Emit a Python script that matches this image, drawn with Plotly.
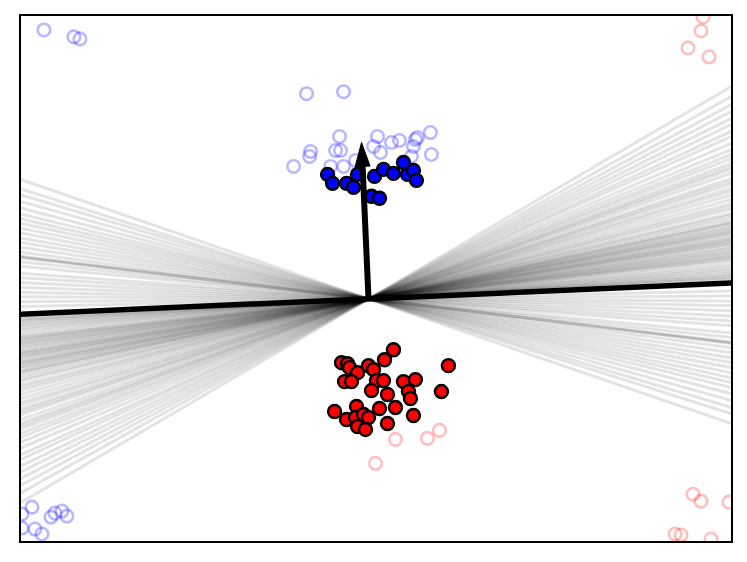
import plotly.graph_objects as go

# ---- data (units: arbitrary 2D feature space, origin at decision centre) ----
blue_x = [-0.41, -0.36, -0.22, -0.15, -0.11, 0.06, 0.15, 0.25, 0.35, 0.39, 0.45, 0.48, 0.03, 0.11]
blue_y = [1.25, 1.16, 1.16, 1.12, 1.25, 1.23, 1.30, 1.26, 1.37, 1.25, 1.29, 1.19, 1.03, 1.01]

red_x = [0.25, 0.16, -0.27, -0.21, -0.19, -0.11, 0.00, 0.05, 0.80, -0.24, -0.17, 0.08, 0.15, 0.35,
         0.47, 0.03, 0.19, 0.40, 0.42, 0.73, -0.34, -0.12, 0.11, 0.27, -0.22, -0.13, -0.05, 0.00,
         -0.11, -0.03, 0.19, 0.45]
red_y = [-0.51, -0.61, -0.64, -0.65, -0.69, -0.74, -0.67, -0.71, -0.67, -0.83, -0.83, -0.82, -0.82,
         -0.83, -0.81, -0.92, -0.96, -0.93, -1.00, -0.93, -1.13, -1.08, -1.10, -1.09, -1.21, -1.19,
         -1.16, -1.19, -1.28, -1.31, -1.25, -1.17]

blue_faint_x = [-0.62, -0.25, -0.29, 0.09, 0.23, 0.31, 0.49, 0.62, -0.58, -0.59, -0.75, -0.33, -0.28,
                0.05, 0.12, 0.45, 0.63, -0.38, -0.25, -0.13, 0.43, 0.47,
                -3.25, -2.95, -2.89,
                -3.47, -3.37, -3.47, -3.34, -3.27, -3.18, -3.14, -3.07, -3.02]
blue_faint_y = [2.06, 2.08, 1.63, 1.63, 1.57, 1.59, 1.62, 1.67, 1.48, 1.43, 1.33, 1.49, 1.49,
                1.53, 1.47, 1.53, 1.45, 1.33, 1.33, 1.39, 1.43, 1.60,
                2.70, 2.63, 2.61,
                -2.16, -2.09, -2.30, -2.31, -2.36, -2.19, -2.15, -2.13, -2.18]

red_faint_x = [3.35, 3.33, 3.20, 3.41, 3.25, 3.33, 3.61, 3.07, 3.13, 3.43, 0.27, 0.59, 0.71, 0.07]
red_faint_y = [2.83, 2.69, 2.52, 2.43, -1.96, -2.03, -2.04, -2.36, -2.37, -2.41, -1.41, -1.40, -1.32, -1.65]

# slopes of sampled decision boundaries (all pass through the origin)
sample_slopes = [0.587, 0.559, 0.537, 0.518, 0.499, 0.482, 0.463, 0.449, 0.430, 0.413, 0.399, 0.388,
                 0.375, 0.366, 0.358, 0.347, 0.333, 0.325, 0.317, 0.306, 0.298, 0.287, 0.275, 0.264,
                 0.256, 0.248, 0.237, 0.231, 0.223, 0.215, 0.210, 0.207, 0.200, 0.196, 0.190, 0.187,
                 0.182, 0.179, 0.172, 0.168, 0.163, 0.160, 0.155, 0.152, 0.146, 0.140, 0.136, 0.130,
                 0.127, 0.121, 0.118, 0.113, 0.110, 0.104, 0.096, 0.089, 0.083, 0.077, 0.072, 0.066,
                 0.063, 0.058, 0.055, 0.022, 0.008, -0.006, -0.019, -0.033, -0.047, -0.061, -0.074,
                 -0.094, -0.107, -0.119, -0.121, -0.123, -0.135, -0.149, -0.163, -0.176, -0.190,
                 -0.204, -0.218, -0.231, -0.245, -0.262, -0.281, -0.300, -0.317, -0.344]
mean_slope = 0.044
weight_vec = [-0.07, 1.57]

x_range = [-3.48, 3.63]
y_range = [-2.43, 2.84]

fig = go.Figure()

# sampled boundaries
lx, ly = [], []
ext = 4.0
for s in sample_slopes:
    lx += [-ext, ext, None]
    ly += [-ext * s, ext * s, None]
fig.add_trace(go.Scatter(x=lx, y=ly, mode="lines",
                         line=dict(color="rgba(0,0,0,0.11)", width=3), hoverinfo="skip"))

# mean boundary
fig.add_trace(go.Scatter(x=[-ext, ext], y=[-ext * mean_slope, ext * mean_slope], mode="lines",
                         line=dict(color="black", width=5.5), hoverinfo="skip"))

# faint (test) points
fig.add_trace(go.Scatter(x=blue_faint_x, y=blue_faint_y, mode="markers",
                         marker=dict(size=12.5, color="rgba(0,0,0,0)",
                                     line=dict(color="rgba(0,0,255,0.28)", width=2.6))))
fig.add_trace(go.Scatter(x=red_faint_x, y=red_faint_y, mode="markers",
                         marker=dict(size=12.5, color="rgba(0,0,0,0)",
                                     line=dict(color="rgba(255,0,0,0.25)", width=2.6))))

# training points
fig.add_trace(go.Scatter(x=blue_x, y=blue_y, mode="markers",
                         marker=dict(size=13, color="blue", line=dict(color="black", width=2.4))))
fig.add_trace(go.Scatter(x=red_x, y=red_y, mode="markers",
                         marker=dict(size=13, color="red", line=dict(color="black", width=2.4))))

# arrow (weight vector)
wx, wy = weight_vec
L = (wx ** 2 + wy ** 2) ** 0.5
dx, dy = wx / L, wy / L
nx, ny = dy, -dx
head_len, head_half = 0.24, 0.075
bx, by = wx - head_len * dx, wy - head_len * dy
fig.add_shape(type="line", x0=0, y0=0, x1=bx + 0.02 * dx, y1=by + 0.02 * dy, xref="x", yref="y",
              line=dict(color="black", width=6), layer="above")
fig.add_shape(type="path", xref="x", yref="y", layer="above",
              path=f"M {wx} {wy} L {bx + head_half * nx} {by + head_half * ny} "
                   f"L {bx - head_half * nx} {by - head_half * ny} Z",
              fillcolor="black", line=dict(color="black", width=1))

fig.update_layout(
    width=731, height=539,
    margin=dict(l=13, r=6, t=6, b=6),
    paper_bgcolor="white", plot_bgcolor="white",
    showlegend=False,
    xaxis=dict(range=x_range, showgrid=False, zeroline=False, showticklabels=False, ticks="",
               showline=True, linecolor="black", linewidth=1.5, mirror=True),
    yaxis=dict(range=y_range, showgrid=False, zeroline=False, showticklabels=False, ticks="",
               showline=True, linecolor="black", linewidth=1.5, mirror=True),
)

fig.write_html("out.html")
